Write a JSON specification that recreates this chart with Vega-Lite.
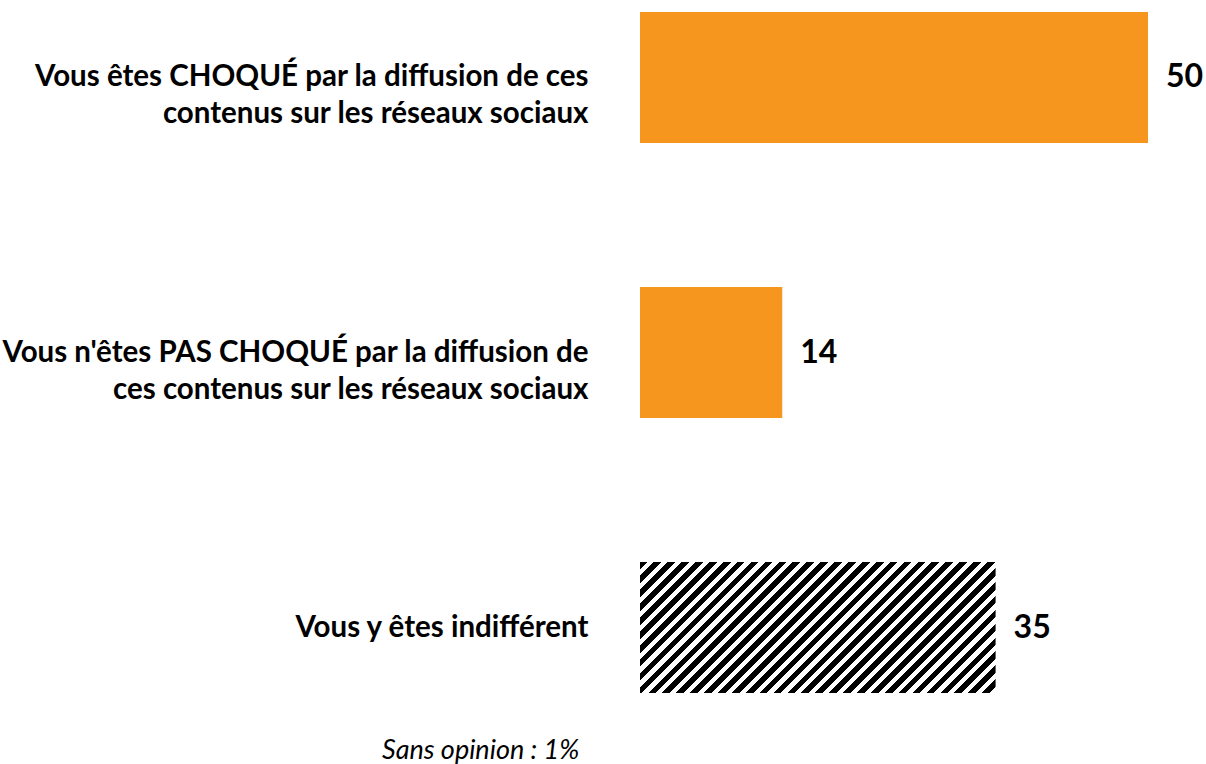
{
  "$schema": "https://vega.github.io/schema/vega-lite/v6.json",
  "autosize": {"type": "none"},
  "padding": {"left": 640, "right": 58, "top": 0, "bottom": 59},
  "width": 508,
  "height": 705,
  "background": "white",
  "config": {"view": {"stroke": null}, "font": "Lato"},
  "title": {
    "text": "Sans opinion : 1%",
    "orient": "bottom",
    "anchor": "start",
    "frame": "group",
    "baseline": "alphabetic",
    "dx": -258,
    "offset": 54,
    "font": "Lato",
    "fontSize": 27,
    "fontStyle": "italic",
    "fontWeight": "normal",
    "color": "#000000"
  },
  "data": {
    "values": [
      {"label": "Vous êtes CHOQUÉ par la diffusion de ces contenus sur les réseaux sociaux", "value": 50},
      {"label": "Vous n'êtes PAS CHOQUÉ par la diffusion de ces contenus sur les réseaux sociaux", "value": 14},
      {"label": "Vous y êtes indifférent", "value": 35}
    ]
  },
  "encoding": {
    "y": {
      "field": "label",
      "type": "nominal",
      "sort": null,
      "scale": {"paddingInner": 0.5236, "paddingOuter": 0.0436},
      "axis": {
        "title": null,
        "ticks": false,
        "domain": false,
        "labelPadding": 52,
        "labelFontSize": 29.5,
        "labelFontWeight": "bold",
        "labelColor": "#000000",
        "labelLineHeight": 37,
        "labelLimit": 800,
        "labelFont": "Lato",
        "labelExpr": "datum.value == 'Vous êtes CHOQUÉ par la diffusion de ces contenus sur les réseaux sociaux' ? ['Vous êtes CHOQUÉ par la diffusion de ces', 'contenus sur les réseaux sociaux'] : datum.value == 'Vous n\\'êtes PAS CHOQUÉ par la diffusion de ces contenus sur les réseaux sociaux' ? ['Vous n\\'êtes PAS CHOQUÉ par la diffusion de', 'ces contenus sur les réseaux sociaux'] : datum.value"
      }
    },
    "x": {
      "field": "value",
      "type": "quantitative",
      "scale": {"domain": [0, 50], "nice": false, "zero": true},
      "axis": null
    }
  },
  "layer": [
    {
      "transform": [{"filter": "datum.label != 'Vous y êtes indifférent'"}],
      "mark": {"type": "bar", "color": "#F7961F"}
    },
    {
      "transform": [{"filter": "datum.label == 'Vous y êtes indifférent'"}],
      "mark": {
        "type": "bar",
        "fill": {
          "gradient": "linear",
          "x1": 0, "y1": 0, "x2": 1.2049, "y2": 0.4439,
          "stops": [
            {"offset": 0, "color": "#000"}, {"offset": 0.0157, "color": "#000"}, {"offset": 0.0157, "color": "#fff"}, {"offset": 0.02857, "color": "#fff"},
            {"offset": 0.02857, "color": "#000"}, {"offset": 0.04429, "color": "#000"}, {"offset": 0.04429, "color": "#fff"}, {"offset": 0.05714, "color": "#fff"},
            {"offset": 0.05714, "color": "#000"}, {"offset": 0.07286, "color": "#000"}, {"offset": 0.07286, "color": "#fff"}, {"offset": 0.08571, "color": "#fff"},
            {"offset": 0.08571, "color": "#000"}, {"offset": 0.10143, "color": "#000"}, {"offset": 0.10143, "color": "#fff"}, {"offset": 0.11429, "color": "#fff"},
            {"offset": 0.11429, "color": "#000"}, {"offset": 0.13, "color": "#000"}, {"offset": 0.13, "color": "#fff"}, {"offset": 0.14286, "color": "#fff"},
            {"offset": 0.14286, "color": "#000"}, {"offset": 0.15857, "color": "#000"}, {"offset": 0.15857, "color": "#fff"}, {"offset": 0.17143, "color": "#fff"},
            {"offset": 0.17143, "color": "#000"}, {"offset": 0.18714, "color": "#000"}, {"offset": 0.18714, "color": "#fff"}, {"offset": 0.2, "color": "#fff"},
            {"offset": 0.2, "color": "#000"}, {"offset": 0.21571, "color": "#000"}, {"offset": 0.21571, "color": "#fff"}, {"offset": 0.22857, "color": "#fff"},
            {"offset": 0.22857, "color": "#000"}, {"offset": 0.24429, "color": "#000"}, {"offset": 0.24429, "color": "#fff"}, {"offset": 0.25714, "color": "#fff"},
            {"offset": 0.25714, "color": "#000"}, {"offset": 0.27286, "color": "#000"}, {"offset": 0.27286, "color": "#fff"}, {"offset": 0.28571, "color": "#fff"},
            {"offset": 0.28571, "color": "#000"}, {"offset": 0.30143, "color": "#000"}, {"offset": 0.30143, "color": "#fff"}, {"offset": 0.31429, "color": "#fff"},
            {"offset": 0.31429, "color": "#000"}, {"offset": 0.33, "color": "#000"}, {"offset": 0.33, "color": "#fff"}, {"offset": 0.34286, "color": "#fff"},
            {"offset": 0.34286, "color": "#000"}, {"offset": 0.35857, "color": "#000"}, {"offset": 0.35857, "color": "#fff"}, {"offset": 0.37143, "color": "#fff"},
            {"offset": 0.37143, "color": "#000"}, {"offset": 0.38714, "color": "#000"}, {"offset": 0.38714, "color": "#fff"}, {"offset": 0.4, "color": "#fff"},
            {"offset": 0.4, "color": "#000"}, {"offset": 0.41571, "color": "#000"}, {"offset": 0.41571, "color": "#fff"}, {"offset": 0.42857, "color": "#fff"},
            {"offset": 0.42857, "color": "#000"}, {"offset": 0.44429, "color": "#000"}, {"offset": 0.44429, "color": "#fff"}, {"offset": 0.45714, "color": "#fff"},
            {"offset": 0.45714, "color": "#000"}, {"offset": 0.47286, "color": "#000"}, {"offset": 0.47286, "color": "#fff"}, {"offset": 0.48571, "color": "#fff"},
            {"offset": 0.48571, "color": "#000"}, {"offset": 0.50143, "color": "#000"}, {"offset": 0.50143, "color": "#fff"}, {"offset": 0.51429, "color": "#fff"},
            {"offset": 0.51429, "color": "#000"}, {"offset": 0.53, "color": "#000"}, {"offset": 0.53, "color": "#fff"}, {"offset": 0.54286, "color": "#fff"},
            {"offset": 0.54286, "color": "#000"}, {"offset": 0.55857, "color": "#000"}, {"offset": 0.55857, "color": "#fff"}, {"offset": 0.57143, "color": "#fff"},
            {"offset": 0.57143, "color": "#000"}, {"offset": 0.58714, "color": "#000"}, {"offset": 0.58714, "color": "#fff"}, {"offset": 0.6, "color": "#fff"},
            {"offset": 0.6, "color": "#000"}, {"offset": 0.61571, "color": "#000"}, {"offset": 0.61571, "color": "#fff"}, {"offset": 0.62857, "color": "#fff"},
            {"offset": 0.62857, "color": "#000"}, {"offset": 0.64429, "color": "#000"}, {"offset": 0.64429, "color": "#fff"}, {"offset": 0.65714, "color": "#fff"},
            {"offset": 0.65714, "color": "#000"}, {"offset": 0.67286, "color": "#000"}, {"offset": 0.67286, "color": "#fff"}, {"offset": 0.68571, "color": "#fff"},
            {"offset": 0.68571, "color": "#000"}, {"offset": 0.70143, "color": "#000"}, {"offset": 0.70143, "color": "#fff"}, {"offset": 0.71429, "color": "#fff"},
            {"offset": 0.71429, "color": "#000"}, {"offset": 0.73, "color": "#000"}, {"offset": 0.73, "color": "#fff"}, {"offset": 0.74286, "color": "#fff"},
            {"offset": 0.74286, "color": "#000"}, {"offset": 0.75857, "color": "#000"}, {"offset": 0.75857, "color": "#fff"}, {"offset": 0.77143, "color": "#fff"},
            {"offset": 0.77143, "color": "#000"}, {"offset": 0.78714, "color": "#000"}, {"offset": 0.78714, "color": "#fff"}, {"offset": 0.8, "color": "#fff"},
            {"offset": 0.8, "color": "#000"}, {"offset": 0.81571, "color": "#000"}, {"offset": 0.81571, "color": "#fff"}, {"offset": 0.82857, "color": "#fff"},
            {"offset": 0.82857, "color": "#000"}, {"offset": 0.84429, "color": "#000"}, {"offset": 0.84429, "color": "#fff"}, {"offset": 0.85714, "color": "#fff"},
            {"offset": 0.85714, "color": "#000"}, {"offset": 0.87286, "color": "#000"}, {"offset": 0.87286, "color": "#fff"}, {"offset": 0.88571, "color": "#fff"},
            {"offset": 0.88571, "color": "#000"}, {"offset": 0.90143, "color": "#000"}, {"offset": 0.90143, "color": "#fff"}, {"offset": 0.91429, "color": "#fff"},
            {"offset": 0.91429, "color": "#000"}, {"offset": 0.93, "color": "#000"}, {"offset": 0.93, "color": "#fff"}, {"offset": 0.94286, "color": "#fff"},
            {"offset": 0.94286, "color": "#000"}, {"offset": 0.95857, "color": "#000"}, {"offset": 0.95857, "color": "#fff"}, {"offset": 0.97143, "color": "#fff"},
            {"offset": 0.97143, "color": "#000"}, {"offset": 0.98714, "color": "#000"}, {"offset": 0.98714, "color": "#fff"}, {"offset": 1, "color": "#fff"}
          ]
        }
      }
    },
    {
      "mark": {
        "type": "text",
        "align": "left",
        "baseline": "middle",
        "dx": 18,
        "fontSize": 32,
        "fontWeight": "bold",
        "font": "Lato",
        "color": "#000000"
      },
      "encoding": {"text": {"field": "value", "type": "quantitative"}}
    }
  ]
}
